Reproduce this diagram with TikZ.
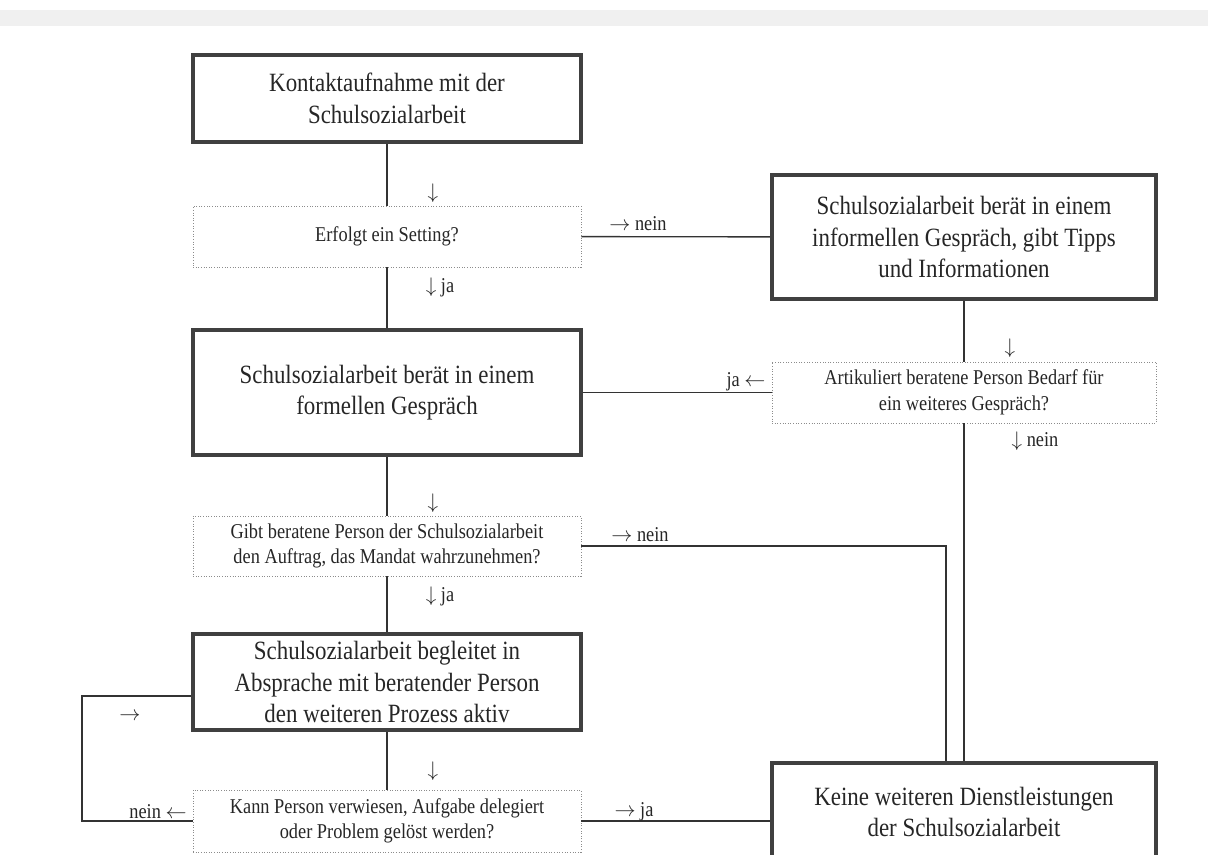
\documentclass[tikz,border=0pt]{standalone}
\usepackage{fontspec}
\setmainfont[FakeStretch=0.87]{Liberation Serif}
\usetikzlibrary{positioning}

\begin{document}
\begin{tikzpicture}[x=0.02cm,y=-0.02cm,text=black!85]
    \tikzstyle{box}=[rectangle,draw=black!75,line width=2.4pt,align=center,inner sep=0pt,font=\fontsize{15}{18}\selectfont]
    \tikzstyle{left box}=[box,minimum width=7.76cm]
    \tikzstyle{right box}=[box,minimum width=7.68cm]
    \tikzstyle{question}=[rectangle,draw=black!45,densely dotted,line width=0.5pt,align=center,inner sep=0pt,font=\fontsize{12}{14.5}\selectfont]
    \tikzstyle{left question}=[question,minimum width=7.76cm]
    \tikzstyle{right question}=[question,minimum width=7.68cm]
    \tikzstyle{annot}=[inner sep=0pt,font=\fontsize{12}{14.5}\selectfont]
    \tikzstyle{link}=[draw=black!80,line width=0.8pt]

    \useasboundingbox (0,0) rectangle (1208,855);
    % scan shadow at the top edge
    \fill[black!6] (0,10) rectangle (1208,26);

    % Draw the left column
    \node[left box,minimum height=1.74cm] (kontakt) at (387,98.5)
        {Kontaktaufnahme mit der\\Schulsozialarbeit};
    \node[left question,minimum height=1.22cm] (setting) at (387,236.5)
        {Erfolgt ein Setting?};
    \node[left box,minimum height=2.5cm] (formell) at (387,392.5)
        {Schulsozialarbeit berät in einem\\formellen Gespräch};
    \node[left question,minimum height=1.2cm] (mandat) at (387,546)
        {Gibt beratene Person der Schulsozialarbeit\\den Auftrag, das Mandat wahrzunehmen?};
    \node[left box,minimum height=1.92cm] (begleitet) at (387,682)
        {Schulsozialarbeit begleitet in\\Absprache mit beratender Person\\den weiteren Prozess aktiv};
    \node[left question,minimum height=1.24cm] (kann) at (387,821)
        {Kann Person verwiesen, Aufgabe delegiert\\oder Problem gelöst werden?};

    % Draw the right column
    \node[right box,minimum height=2.48cm] (informell) at (964,237)
        {Schulsozialarbeit berät in einem\\informellen Gespräch, gibt Tipps\\und Informationen};
    \node[right question,minimum height=1.22cm] (bedarf) at (964,392.5)
        {Artikuliert beratene Person Bedarf für\\ein weiteres Gespräch?};
    \node[right box,minimum height=1.96cm] (keine) at (964,812)
        {Keine weiteren Dienstleistungen\\der Schulsozialarbeit};

    \coordinate (loop) at (82,696);

    % Connect the boxes
    \foreach \source/\dest in {kontakt/setting,setting/formell,formell/mandat,
        mandat/begleitet,begleitet/kann,setting/informell,informell/bedarf,
        bedarf/formell}
        \draw[link] (\source) -- (\dest);
    \draw[link] (bedarf.south) -- (bedarf.south |- keine.north);
    \draw[link] (mandat.east) -| ([xshift=-0.36cm]keine.north);
    \draw[link] (kann.east) -- (kann.east -| keine.west);
    \draw[link] (kann.west) -| (loop) -- (loop -| begleitet.west);

    % Annotate the connectors
    \foreach \name/\x/\y/\txt in {d1/433/193/$\downarrow$,n1/638/224/$\rightarrow$ nein,
        j1/440/287/$\downarrow$ ja,d2/1010/348/$\downarrow$,j2/746/382/ja $\leftarrow$,
        n2/1035/441/$\downarrow$ nein,d3/433/503/$\downarrow$,n3/640/535/$\rightarrow$ nein,
        j3/440/596/$\downarrow$ ja,r1/130/717/$\rightarrow$,d4/433/771/$\downarrow$,
        n4/158/812/nein $\leftarrow$,j4/634/812/$\rightarrow$ ja}
        \node[annot] (\name) at (\x,\y) {\txt};
\end{tikzpicture}
\end{document}
